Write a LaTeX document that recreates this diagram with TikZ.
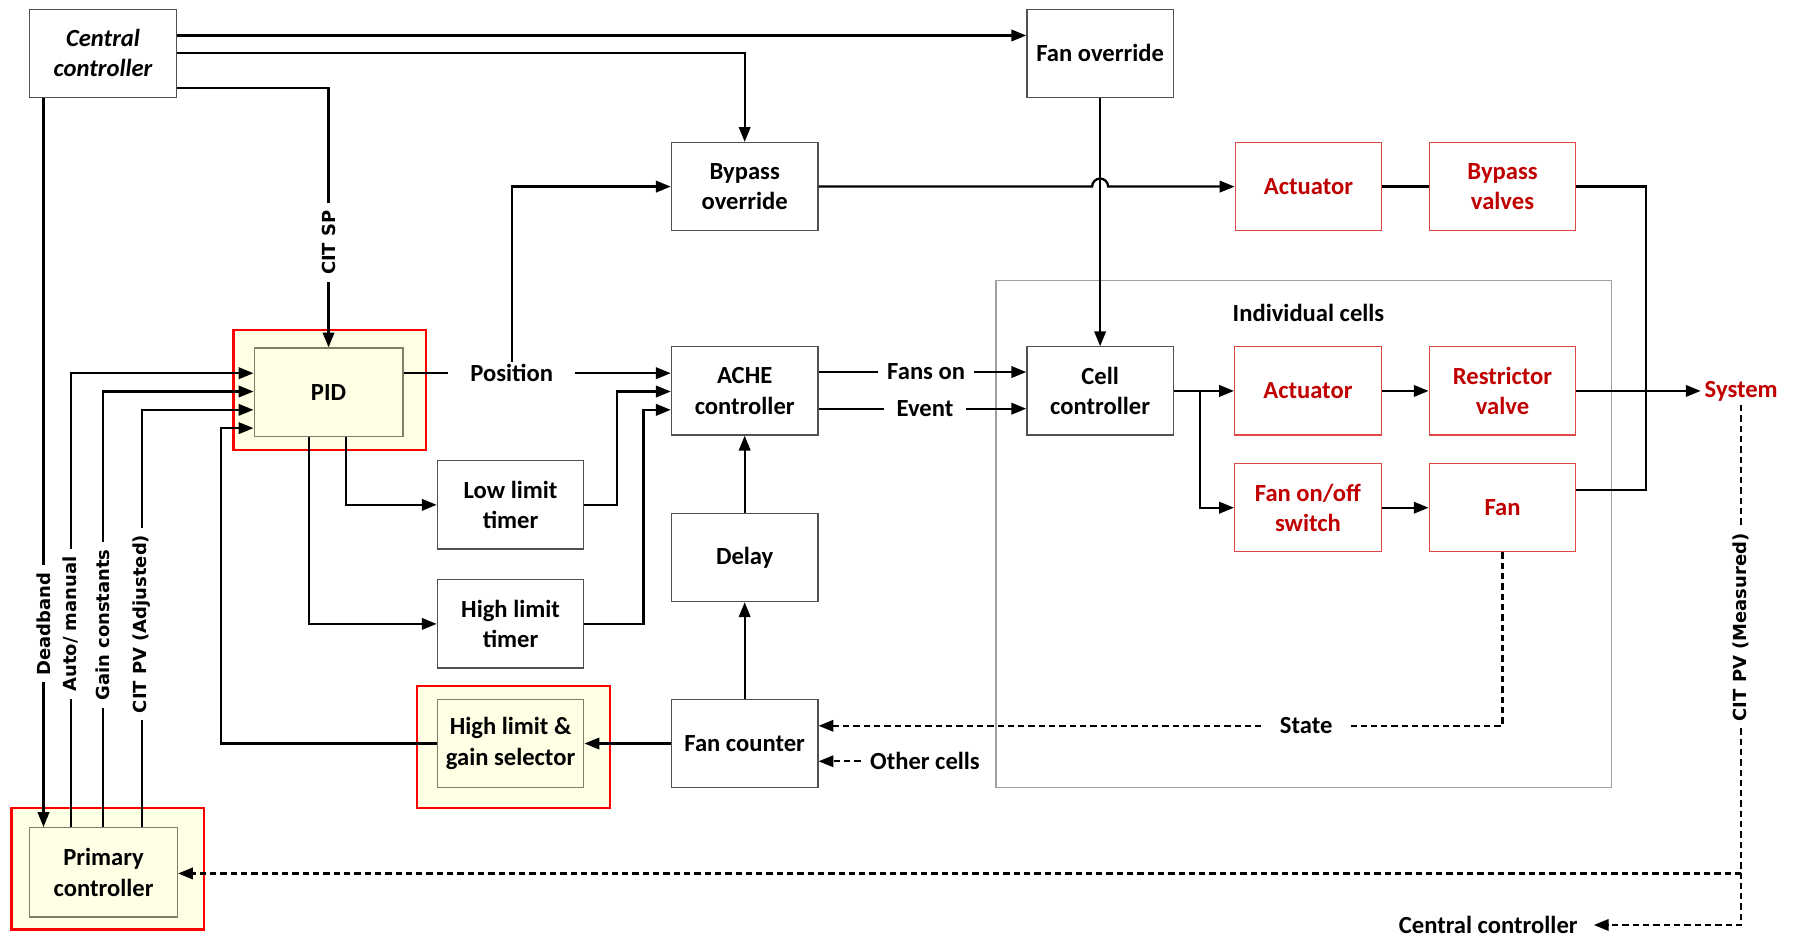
\documentclass[tikz,border=0pt]{standalone}
\usepackage{fontspec}
\setmainfont{Carlito}
\newfontfamily\dvfont{DejaVu Sans}
\usetikzlibrary{arrows.meta}
\definecolor{redtxt}{HTML}{C00000}
\definecolor{redbrd}{HTML}{E04848}
\definecolor{hlred}{HTML}{FF0000}
\definecolor{hlfill}{HTML}{FFFFE6}
\definecolor{inbrd}{HTML}{7F7F6A}
\definecolor{boxbrd}{HTML}{505050}
\definecolor{contbrd}{HTML}{A0A0A0}
\begin{document}
\begin{tikzpicture}[x=1pt,y=-1pt,
  font=\fontsize{21.5}{26.5}\selectfont\bfseries,
  blk/.style={draw=boxbrd, line width=1.1pt, minimum width=128pt, minimum height=77pt, inner sep=0pt, align=center, fill=white},
  redblk/.style={blk, draw=redbrd, text=redtxt},
  hlouter/.style={draw=hlred, line width=2pt, fill=hlfill},
  hlinner/.style={blk, draw=inbrd, fill=hlfill},
  conn/.style={line width=2pt, -{Triangle[length=13pt,width=10pt]}},
  plain/.style={line width=2pt},
  dconn/.style={conn, dash pattern=on 5.5pt off 3.5pt},
  dplain/.style={plain, dash pattern=on 5.5pt off 3.5pt},
  lbl/.style={inner ysep=2pt},
  rlbl/.style={rotate=90, font=\dvfont\bfseries\fontsize{15.7}{18}\selectfont, inner xsep=6pt, inner ysep=1pt},
]
\fill[white] (0,0) rectangle (1568,819);
\useasboundingbox (0,0) rectangle (1568,819);

% container
\node[draw=contbrd, line width=1.1pt, minimum width=538pt, minimum height=443pt, inner sep=0pt] (cells) at (1139,466.5) {};
\node (cellslbl) at (1143,273) {Individual cells};

% boxes
\node[blk, font=\fontsize{21.5}{26.5}\selectfont\bfseries\itshape] (central) at (90,46.5) {Central\\controller};
\node[blk] (fanov) at (961,46.5) {Fan override};
\node[blk] (bypov) at (650.5,163) {Bypass\\override};
\node[redblk] (act1) at (1143,163) {Actuator};
\node[redblk] (bpv) at (1312.5,163) {Bypass\\valves};

\node[hlouter, minimum width=168pt, minimum height=105pt] (pidout) at (288,340.5) {};
\node[hlinner, minimum width=130pt, minimum height=77pt] (pid) at (287,342.5) {PID};
\node[blk] (ache) at (650.5,341.5) {ACHE\\controller};
\node[blk] (cellc) at (961,341.5) {Cell\\controller};
\node[redblk] (act2) at (1142.5,341.5) {Actuator};
\node[redblk] (restr) at (1312.5,341.5) {Restrictor\\valve};
\node[text=redtxt] (sys) at (1521,341.5) {System};

\node[blk] (low) at (446,441) {Low limit\\timer};
\node[redblk] (fanonoff) at (1142.5,443.5) {Fan on/off\\switch};
\node[redblk] (fan) at (1312.5,443.5) {Fan};
\node[blk] (high) at (446,545) {High limit\\timer};
\node[blk] (delay) at (650.5,487) {Delay};

\node[hlouter, minimum width=169pt, minimum height=107pt] (hlgsout) at (448.5,652.5) {};
\node[hlinner] (hlgs) at (446,649.5) {High limit \&\\gain selector};
\node[blk] (fancnt) at (650.5,649.5) {Fan counter};

\node[hlouter, minimum width=168pt, minimum height=106pt] (primout) at (94,759) {};
\node[hlinner, minimum width=129pt, minimum height=78pt] (prim) at (90.5,762) {Primary\\controller};

% labels
\node[lbl, inner xsep=19pt] (pos) at (447,326) {Position};
\node[lbl, inner xsep=8pt] (fanson) at (809,325) {Fans on};
\node[lbl, inner xsep=11pt] (event) at (808,357) {Event};
\node[lbl, inner xsep=16pt] (state) at (1141,634) {State};
\node[lbl, inner xsep=8pt] (other) at (808,665) {Other cells};
\node[lbl, inner xsep=14pt] (cc2) at (1300,808) {Central controller};
\node[rlbl] (citsp) at (287,212) {CIT SP};
\node[rlbl] (dead) at (38,545) {Deadband};
\node[rlbl] (auto) at (62,545) {Auto/ manual};
\node[rlbl] (gain) at (90,546) {Gain constants};
\node[rlbl] (citpv) at (124,545) {CIT PV (Adjusted)};
\node[rlbl] (citm) at (1521,548) {CIT PV (Measured)};

% connectors
\draw[conn] (central.east |- 0,31) -- (fanov.west |- 0,31);
\draw[conn] (central.east |- 0,46) -| (bypov.north);
\draw[plain] (central.east |- 0,77) -| (citsp.east);
\draw[conn] (citsp.west) -- (pid.north);
\draw[plain] (central.south -| 38,0) -- (dead.east);
\draw[conn] (dead.west) -- (prim.north -| dead.west);

\draw[plain] (prim.north -| auto.west) -- (auto.west);
\draw[conn] (auto.east) |- (pid.west |- 0,326);
\draw[plain] (prim.north -| gain.west) -- (gain.west);
\draw[conn] (gain.east) |- (pid.west |- 0,342);
\draw[plain] (prim.north -| citpv.west) -- (citpv.west);
\draw[conn] (citpv.east) |- (pid.west |- 0,358);
\draw[conn] (hlgs.west) -| (193,374) -- (pid.west |- 0,374);

\draw[plain] (pid.east |- 0,326) -- (pos.west);
\draw[conn] (pos.east) -- (ache.west |- 0,326);
\draw[conn] (pos.north) |- (bypov.west);
\draw[conn] (pid.south -| 302,0) |- (low.west);
\draw[conn] (pid.south -| 270,0) |- (high.west);
\draw[conn] (low.east) -| (539,342) -- (ache.west |- 0,342);
\draw[conn] (high.east) -| (562,358) -- (ache.west |- 0,358);
\draw[conn] (delay.north) -- (ache.south);
\draw[conn] (fancnt.north) -- (delay.south);
\draw[conn] (fancnt.west) -- (hlgs.east);

\draw[plain] (ache.east |- 0,325) -- (fanson.west);
\draw[conn] (fanson.east) -- (cellc.west |- 0,325);
\draw[plain] (ache.east |- 0,357) -- (event.west);
\draw[conn] (event.east) -- (cellc.west |- 0,357);
\draw[conn] (fanov.south) -- (cellc.north);
\draw[conn] (bypov.east) -- (954,163) arc[start angle=180, end angle=0, radius=7pt] -- (act1.west);
\draw[plain] (act1.east) -- (bpv.west);
\draw[plain] (bpv.east) -| (1438,428) -- (fan.east |- 0,428);
\draw[conn] (restr.east) -- (sys.west);
\draw[conn] (cellc.east) -- (act2.west);
\draw[conn] (cellc.east -| 1048,0) |- (fanonoff.west);
\draw[conn] (act2.east) -- (restr.west);
\draw[conn] (fanonoff.east) -- (fan.west);

\draw[dplain] (fan.south) |- (state.east);
\draw[dconn] (state.west) -- (fancnt.east |- 0,634);
\draw[dconn] (other.west) -- (fancnt.east |- other.west);
\draw[dplain] (sys.south) -- (citm.east);
\draw[dconn] (citm.west) |- (cc2.east);
\draw[dconn] (citm.west |- 0,763) -- (prim.east |- 0,763);
\end{tikzpicture}
\end{document}
